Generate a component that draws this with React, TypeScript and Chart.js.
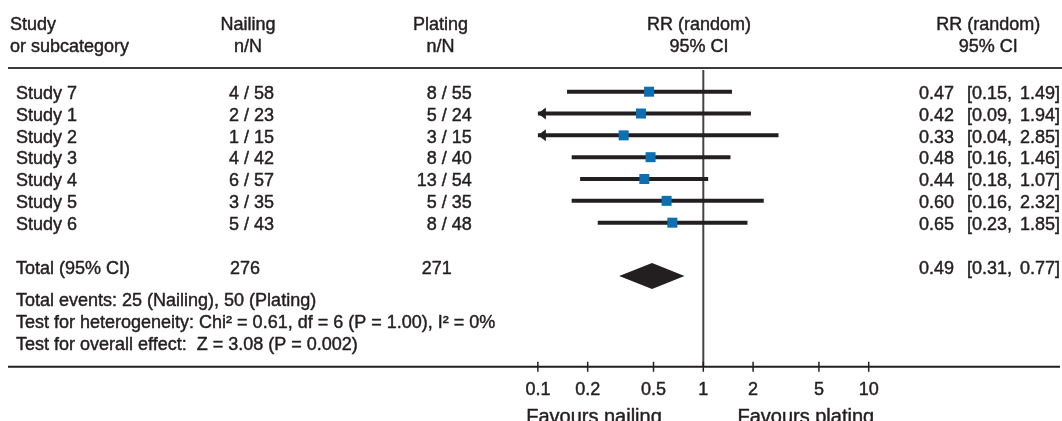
import React, { useEffect, useRef } from "react";
import { Chart, registerables } from "chart.js";

Chart.register(...registerables);

// ---------- data ----------
const studies = ["Study 7", "Study 1", "Study 2", "Study 3", "Study 4", "Study 5", "Study 6"];
const nailingEvents = [4, 2, 1, 4, 6, 3, 5];
const nailingTotals = [58, 23, 15, 42, 57, 35, 43];
const platingEvents = [8, 5, 3, 8, 13, 5, 8];
const platingTotals = [55, 24, 15, 40, 54, 35, 48];
const rr = [0.47, 0.42, 0.33, 0.48, 0.44, 0.6, 0.65];
const ciLow = [0.15, 0.09, 0.04, 0.16, 0.18, 0.16, 0.23];
const ciHigh = [1.49, 1.94, 2.85, 1.46, 1.07, 2.32, 1.85];

const totalLabel = "Total (95% CI)";
const totalNailing = 276;
const totalPlating = 271;
const totalRR = 0.49;
const totalLow = 0.31;
const totalHigh = 0.77;

const axisTicks = [0.1, 0.2, 0.5, 1, 2, 5, 10];
const tickLabels = ["0.1", "0.2", "0.5", "1", "2", "5", "10"];
const favoursLabels = ["Favours nailing", "Favours plating"];

const headerLeft = ["Study", "or subcategory"];
const headerNailing = ["Nailing", "n/N"];
const headerPlating = ["Plating", "n/N"];
const headerPlot = ["RR (random)", "95% CI"];
const headerRight = ["RR (random)", "95% CI"];

const footnotes = [
  "Total events: 25 (Nailing), 50 (Plating)",
  "Test for heterogeneity: Chi\u00B2 = 0.61, df = 6 (P = 1.00), I\u00B2 = 0%",
  "Test for overall effect:  Z = 3.08 (P = 0.002)",
];

// ---------- layout / style ----------
const W = 1062;
const H = 421;
const ONE_PX = 703.3; // pixel of RR = 1
const DECADE_PX = 165.4;
const ROW0_PX = 91.7;
const ROW_PX = 21.83;
const AXIS_MIN = 0.1;
const TOTAL_ROW = 8;
const DIAMOND_ROW = 8.44;
const FOOT_ROW0 = 9.5;
const AXIS_ROW = 12.6;
const RULE_ROW = -1.09;
const REF_TOP_ROW = -0.99;

const INK = "#231f20";
const BLUE = "#0b6fb2";
const FONT = '18px "Liberation Sans", Arial, sans-serif';
const FONT_BIG = '20px "Liberation Sans", Arial, sans-serif';

const fmt = (v: number) => v.toFixed(2);

const forestPlugin = {
  id: "forest",
  beforeDatasetsDraw(chart: any) {
    const { ctx, scales } = chart;
    const x = scales.x;
    const y = scales.y;
    ctx.save();
    // top rule
    ctx.strokeStyle = "#3c3c3c";
    ctx.lineWidth = 2;
    ctx.beginPath();
    ctx.moveTo(8, y.getPixelForValue(RULE_ROW));
    ctx.lineTo(W, y.getPixelForValue(RULE_ROW));
    ctx.stroke();
    // reference line at RR = 1
    ctx.strokeStyle = "#444";
    ctx.lineWidth = 2;
    ctx.beginPath();
    ctx.moveTo(x.getPixelForValue(1), y.getPixelForValue(REF_TOP_ROW));
    ctx.lineTo(x.getPixelForValue(1), y.getPixelForValue(AXIS_ROW));
    ctx.stroke();
    ctx.restore();
  },
  afterDatasetsDraw(chart: any) {
    const { ctx, scales } = chart;
    const x = scales.x;
    const y = scales.y;
    ctx.save();

    // arrows for truncated CIs
    ctx.fillStyle = INK;
    ciLow.forEach((lo, i) => {
      if (lo < AXIS_MIN) {
        const px = x.getPixelForValue(AXIS_MIN);
        const py = y.getPixelForValue(i);
        ctx.beginPath();
        ctx.moveTo(px, py);
        ctx.lineTo(px + 8, py - 6);
        ctx.lineTo(px + 8, py + 6);
        ctx.closePath();
        ctx.fill();
      }
    });

    // pooled diamond
    const dy = y.getPixelForValue(DIAMOND_ROW);
    ctx.beginPath();
    ctx.moveTo(x.getPixelForValue(totalLow), dy);
    ctx.lineTo(x.getPixelForValue(totalRR), dy - 13);
    ctx.lineTo(x.getPixelForValue(totalHigh), dy);
    ctx.lineTo(x.getPixelForValue(totalRR), dy + 13);
    ctx.closePath();
    ctx.fill();

    // x axis
    const ay = y.getPixelForValue(AXIS_ROW);
    ctx.strokeStyle = INK;
    ctx.lineWidth = 2;
    ctx.beginPath();
    ctx.moveTo(8, ay);
    ctx.lineTo(1060, ay);
    ctx.stroke();
    ctx.lineWidth = 1.5;
    axisTicks.forEach((t) => {
      const px = x.getPixelForValue(t);
      ctx.beginPath();
      ctx.moveTo(px, ay - 5);
      ctx.lineTo(px, ay + 5);
      ctx.stroke();
    });

    // text
    ctx.fillStyle = INK;
    ctx.strokeStyle = INK;
    ctx.lineWidth = 0.45;
    ctx.lineJoin = "round";
    ctx.font = FONT;
    ctx.textBaseline = "alphabetic";
    const text = (s: string, px: number, py: number, align: CanvasTextAlign) => {
      ctx.textAlign = align;
      ctx.fillText(s, px, py);
      ctx.strokeText(s, px, py);
    };

    const hb = [30, 51.7];
    hb.forEach((b, k) => {
      text(headerLeft[k], 10, b, "left");
      text(headerNailing[k], 248, b, "center");
      text(headerPlating[k], 440.5, b, "center");
      text(headerPlot[k], 699, b, "center");
      text(headerRight[k], 988.3, b, "center");
    });

    const base = (row: number) => y.getPixelForValue(row) + 7.3;

    studies.forEach((s, i) => {
      const b = base(i);
      text(s, 16, b, "left");
      text(`${nailingEvents[i]} / ${nailingTotals[i]}`, 274, b, "right");
      text(`${platingEvents[i]} / ${platingTotals[i]}`, 471.7, b, "right");
      text(fmt(rr[i]), 919, b, "left");
      text(`[${fmt(ciLow[i])},`, 967, b, "left");
      text(`${fmt(ciHigh[i])}]`, 1060, b, "right");
    });

    const tb = base(TOTAL_ROW);
    text(totalLabel, 16, tb, "left");
    text(String(totalNailing), 230, tb, "left");
    text(String(totalPlating), 421.7, tb, "left");
    text(fmt(totalRR), 919, tb, "left");
    text(`[${fmt(totalLow)},`, 967, tb, "left");
    text(`${fmt(totalHigh)}]`, 1060, tb, "right");

    footnotes.forEach((f, k) => text(f, 16, base(FOOT_ROW0 + k), "left"));

    axisTicks.forEach((t, k) => text(tickLabels[k], x.getPixelForValue(t), ay + 28.3, "center"));

    ctx.font = FONT_BIG;
    text(favoursLabels[0], 594, ay + 55.8, "center");
    text(favoursLabels[1], 805.8, ay + 55.8, "center");

    ctx.restore();
  },
};

export default function App() {
  const ref = useRef<HTMLCanvasElement | null>(null);

  useEffect(() => {
    if (!ref.current) return;

    const ciDatasets = studies.map((s, i) => ({
      label: s,
      data: [
        { x: Math.max(ciLow[i], AXIS_MIN), y: i },
        { x: ciHigh[i], y: i },
      ],
      showLine: true,
      borderColor: INK,
      borderWidth: 4,
      borderCapStyle: "butt",
      pointRadius: 0,
      order: 1,
    }));

    const squares = {
      label: "RR",
      data: rr.map((v, i) => ({ x: v, y: i })),
      pointStyle: "rect",
      pointRadius: 7.07,
      backgroundColor: BLUE,
      borderWidth: 0,
      order: 0,
    };

    const chart = new Chart(ref.current, {
      type: "scatter",
      data: { datasets: [squares as any, ...(ciDatasets as any)] },
      options: {
        animation: false,
        responsive: false,
        events: [],
        layout: { padding: 0, autoPadding: false },
        plugins: { legend: { display: false }, tooltip: { enabled: false }, title: { display: false } },
        scales: {
          x: {
            type: "logarithmic",
            display: false,
            bounds: "data",
            min: Math.pow(10, -ONE_PX / DECADE_PX),
            max: Math.pow(10, (W - ONE_PX) / DECADE_PX),
          },
          y: {
            type: "linear",
            display: false,
            reverse: true,
            bounds: "data",
            min: -ROW0_PX / ROW_PX,
            max: (H - ROW0_PX) / ROW_PX,
          },
        },
      },
      plugins: [forestPlugin],
    });

    return () => chart.destroy();
  }, []);

  return (
    <div style={{ position: "fixed", left: 0, top: 0, width: W, height: H, background: "#fff" }}>
      <canvas ref={ref} width={W} height={H} style={{ display: "block" }} />
    </div>
  );
}
